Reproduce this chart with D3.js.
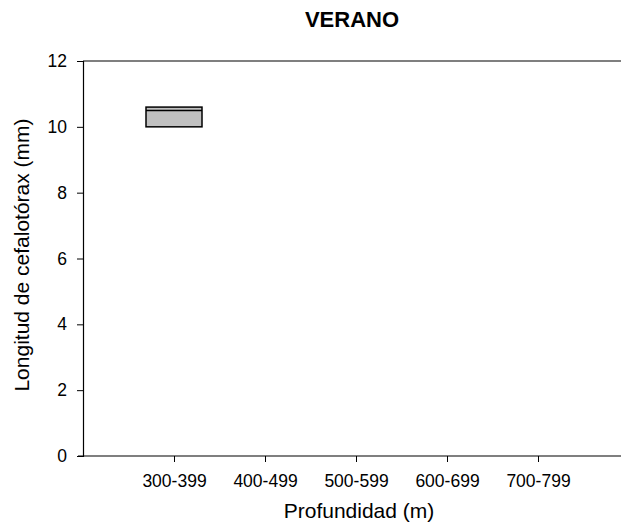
<!DOCTYPE html>
<html>
<head>
<meta charset="utf-8">
<script src="https://cdn.jsdelivr.net/npm/d3@7"></script>
<style>
  body { margin: 0; background: #fff; }
  text { font-family: "Liberation Sans", Arial, sans-serif; fill: #000; }
</style>
</head>
<body>
<svg id="chart" width="621" height="529"></svg>
<script>
// Depth classes on the x axis
const categories = ["300-399", "400-499", "500-599", "600-699", "700-799"];
// Box statistics per depth class (null = no data)
const q1Values     = [10.0, null, null, null, null];
const medianValues = [10.5, null, null, null, null];
const q3Values     = [10.6, null, null, null, null];
const yTicks = [0, 2, 4, 6, 8, 10, 12];

const svg = d3.select("#chart");
const plotLeft = 83, plotTop = 61, plotBottom = 456, plotRight = 629;
const tickFont = "17.5px", titleFont = "21px";

const x = d3.scaleLinear().domain([0, categories.length + 1]).range([plotLeft, plotRight]);
const y = d3.scaleLinear().domain([0, 12]).range([plotBottom, plotTop]);

// Boxes
const boxW = 56;
categories.forEach((c, i) => {
  if (q1Values[i] == null) return;
  const cx = x(i + 1);
  svg.append("rect")
    .attr("x", cx - boxW / 2).attr("y", y(q3Values[i]))
    .attr("width", boxW).attr("height", y(q1Values[i]) - y(q3Values[i]))
    .attr("fill", "#c0c0c0").attr("stroke", "#000").attr("stroke-width", 1.5);
  svg.append("line")
    .attr("x1", cx - boxW / 2).attr("x2", cx + boxW / 2)
    .attr("y1", y(medianValues[i])).attr("y2", y(medianValues[i]))
    .attr("stroke", "#000").attr("stroke-width", 1.5);
});

// Top frame line
svg.append("line")
  .attr("x1", plotLeft).attr("x2", plotRight).attr("y1", plotTop).attr("y2", plotTop)
  .attr("stroke", "#000").attr("stroke-width", 1.2);

// Y axis
const yAxis = svg.append("g")
  .attr("transform", `translate(${plotLeft},0)`)
  .call(d3.axisLeft(y).tickValues(yTicks).tickFormat(d3.format("d")).tickSize(6).tickPadding(10));
yAxis.select(".domain").attr("stroke-width", 1.2);
yAxis.selectAll("text").style("font-size", tickFont).style("font-family", "Liberation Sans, Arial, sans-serif");

// X axis
const xAxis = svg.append("g")
  .attr("transform", `translate(0,${plotBottom})`)
  .call(d3.axisBottom(x).tickValues(d3.range(1, categories.length + 1))
    .tickFormat((d) => categories[d - 1]).tickSizeInner(6).tickSizeOuter(0).tickPadding(13));
xAxis.select(".domain").attr("d", `M${plotLeft - 5},0H${plotRight}`).attr("stroke-width", 1.2);
xAxis.selectAll("text").style("font-size", tickFont).style("font-family", "Liberation Sans, Arial, sans-serif");

// Titles
svg.append("text").attr("x", 352).attr("y", 27).attr("text-anchor", "middle")
  .style("font-size", "22px").style("font-weight", "bold").text("VERANO");
svg.append("text").attr("x", 359).attr("y", 518).attr("text-anchor", "middle")
  .style("font-size", titleFont).text("Profundidad (m)");
svg.append("text").attr("transform", `translate(29,255) rotate(-90)`)
  .attr("text-anchor", "middle").style("font-size", titleFont).text("Longitud de cefalotórax (mm)");
</script>
</body>
</html>
